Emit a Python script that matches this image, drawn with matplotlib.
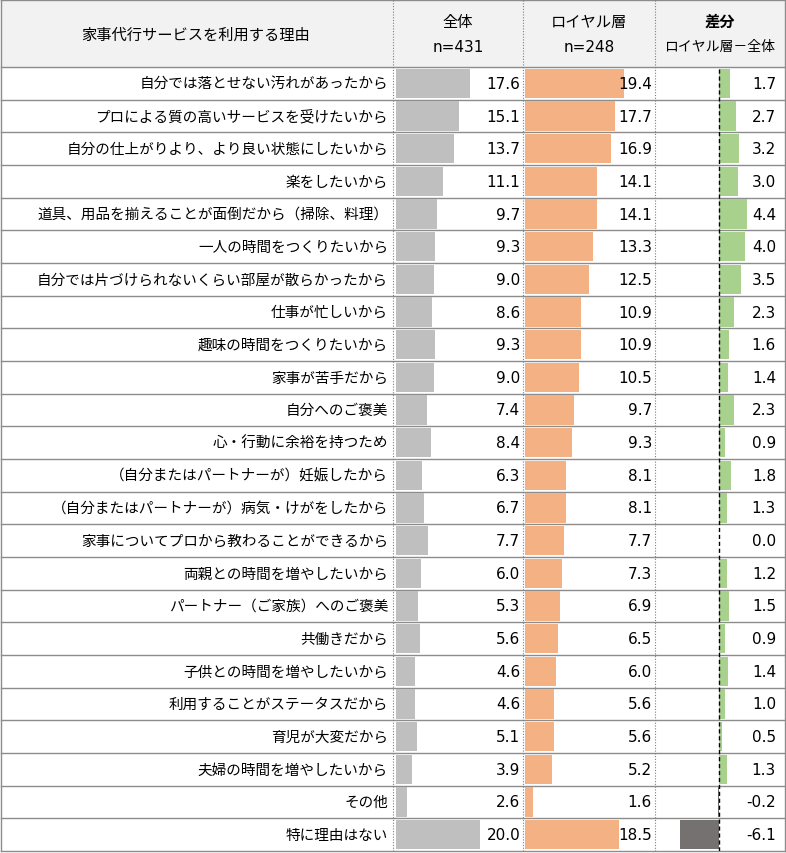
import numpy as np
import matplotlib
matplotlib.use("Agg")
import matplotlib.pyplot as plt

plt.rcParams['font.family'] = ['Noto Sans CJK JP', 'DejaVu Sans']

# data
reasons = [
    "自分では落とせない汚れがあったから",
    "プロによる質の高いサービスを受けたいから",
    "自分の仕上がりより、より良い状態にしたいから",
    "楽をしたいから",
    "道具、用品を揃えることが面倒だから（掃除、料理）",
    "一人の時間をつくりたいから",
    "自分では片づけられないくらい部屋が散らかったから",
    "仕事が忙しいから",
    "趣味の時間をつくりたいから",
    "家事が苦手だから",
    "自分へのご褒美",
    "心・行動に余裕を持つため",
    "（自分またはパートナーが）妊娠したから",
    "（自分またはパートナーが）病気・けがをしたから",
    "家事についてプロから教わることができるから",
    "両親との時間を増やしたいから",
    "パートナー（ご家族）へのご褒美",
    "共働きだから",
    "子供との時間を増やしたいから",
    "利用することがステータスだから",
    "育児が大変だから",
    "夫婦の時間を増やしたいから",
    "その他",
    "特に理由はない",
]
total = [17.6, 15.1, 13.7, 11.1, 9.7, 9.3, 9.0, 8.6, 9.3, 9.0, 7.4, 8.4,
         6.3, 6.7, 7.7, 6.0, 5.3, 5.6, 4.6, 4.6, 5.1, 3.9, 2.6, 20.0]
royal = [19.4, 17.7, 16.9, 14.1, 14.1, 13.3, 12.5, 10.9, 10.9, 10.5, 9.7, 9.3,
         8.1, 8.1, 7.7, 7.3, 6.9, 6.5, 6.0, 5.6, 5.6, 5.2, 1.6, 18.5]
diff = [1.7, 2.7, 3.2, 3.0, 4.4, 4.0, 3.5, 2.3, 1.6, 1.4, 2.3, 0.9,
        1.8, 1.3, 0.0, 1.2, 1.5, 0.9, 1.4, 1.0, 0.5, 1.3, -0.2, -6.1]

W, H = 786, 854
fig = plt.figure(figsize=(W / 100, H / 100), dpi=100)

# table frame in pixel coordinates
bg = fig.add_axes([0, 0, 1, 1])
bg.set_xlim(0, W)
bg.set_ylim(H, 0)
bg.axis("off")

top, bottom = 68, 852
col_x = [1, 393, 523, 655, 785]
n = len(reasons)
row_h = (bottom - top) / n
line_c = "#8c8c8c"

bg.fill_between([col_x[0], col_x[-1]], 1, top, color="#f2f2f2", zorder=0)
for i in range(n + 1):
    bg.plot([col_x[0], col_x[-1]], [top + i * row_h] * 2, color=line_c, lw=1.0)
bg.plot([col_x[0], col_x[-1]], [1, 1], color=line_c, lw=1.0)
for x in (col_x[0], col_x[-1]):
    bg.plot([x, x], [1, bottom], color=line_c, lw=1.0)
for x in col_x[1:-1]:
    bg.plot([x, x], [1, bottom], color="#7f7f7f", lw=0.8, ls=(0, (1, 1.5)))

# header
bg.text(196, 35, "家事代行サービスを利用する理由", ha="center", va="center", fontsize=11)
bg.text(458, 23, "全体", ha="center", va="center", fontsize=11)
bg.text(458, 47, "n=431", ha="center", va="center", fontsize=11, family="DejaVu Sans")
bg.text(589, 23, "ロイヤル層", ha="center", va="center", fontsize=11)
bg.text(589, 47, "n=248", ha="center", va="center", fontsize=11, family="DejaVu Sans")
bg.text(720, 22, "差分", ha="center", va="center", fontsize=11, fontweight="bold")
bg.text(720, 47, "ロイヤル層－全体", ha="center", va="center", fontsize=10)

for i, r in enumerate(reasons):
    bg.text(388, top + (i + 0.5) * row_h, r, ha="right", va="center", fontsize=10.5)


def bar_axes(x0, x1, lim):
    ax = fig.add_axes([x0 / W, 1 - bottom / H, (x1 - x0) / W, (bottom - top) / H])
    ax.set_xlim(*lim)
    ax.set_ylim(n - 0.5, -0.5)
    ax.axis("off")
    ax.patch.set_alpha(0)
    return ax


ypos = np.arange(n)
num_kw = dict(ha="right", va="center", fontsize=11, family="DejaVu Sans")

ax1 = bar_axes(col_x[1], col_x[2], (-3 / 4.2, 127 / 4.2))
ax1.barh(ypos, total, height=0.9, color="#bfbfbf")
for i, v in enumerate(total):
    ax1.text(29.6, i, f"{v:.1f}", **num_kw)

ax2 = bar_axes(col_x[2], col_x[3], (-2 / 5.1, 130 / 5.1))
ax2.barh(ypos, royal, height=0.9, color="#f4b183")
for i, v in enumerate(royal):
    ax2.text(24.9, i, f"{v:.1f}", **num_kw)

ax3 = bar_axes(col_x[3], col_x[4], (-64 / 6.4, 66 / 6.4))
colors = ["#a9d18e" if v >= 0 else "#767171" for v in diff]
ax3.barh(ypos, diff, height=0.9, color=colors)
ax3.axvline(0, color="black", lw=1, ls=(0, (3, 2)))
for i, v in enumerate(diff):
    ax3.text(8.9, i, f"{v:.1f}", **num_kw)

fig.savefig("out.png", dpi=100)
